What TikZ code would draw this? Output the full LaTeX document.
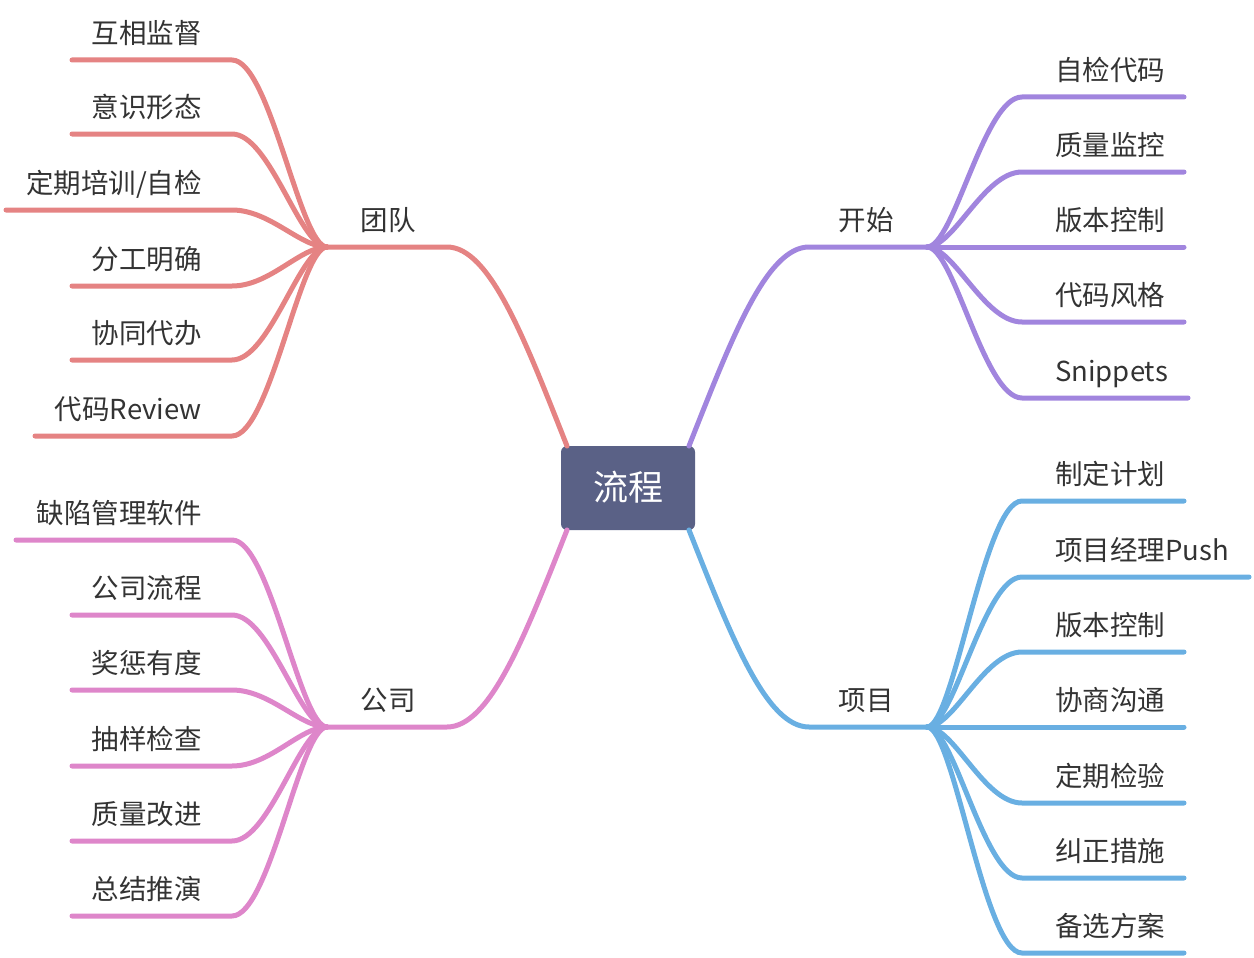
\documentclass[tikz,border=0pt]{standalone}
\usepackage{fontspec}
\setmainfont{Noto Sans CJK SC}
\definecolor{cred}{RGB}{229,131,131}
\definecolor{cpur}{RGB}{161,133,222}
\definecolor{cblu}{RGB}{105,175,226}
\definecolor{cpnk}{RGB}{222,134,202}
\definecolor{cbox}{RGB}{90,97,134}
\definecolor{ctxt}{RGB}{51,51,51}
\begin{document}
\begin{tikzpicture}[x=1pt,y=-1pt,
  lbl/.style={font=\fontsize{27.5}{30}\selectfont, text=ctxt, inner sep=0pt, text height=0.88em, text depth=0.12em, yshift=-7pt},
  lft/.style={lbl, anchor=east},
  rgt/.style={lbl, anchor=west},
  rootbox/.style={fill=cbox, rounded corners=6pt, minimum width=134pt, minimum height=84pt, inner sep=0pt,
    text=white, font=\fontsize{35}{38}\selectfont, text height=0.88em, text depth=0.12em},
  branch/.style={line width=5pt, line cap=round}
]
\useasboundingbox (0,0) rectangle (1254,958);

% root
\node[rootbox] (root) at (628,488) {\raisebox{-9pt}{流程}};
\coordinate (rTL) at (567,446);
\coordinate (rTR) at (689,446);
\coordinate (rBR) at (689,530);
\coordinate (rBL) at (567,530);

% hubs
\coordinate (T) at (327,247);
\coordinate (S) at (927,247);
\coordinate (P) at (927,727);
\coordinate (C) at (327,727);
\coordinate (Tk) at (447,247);
\coordinate (Sk) at (809,247);
\coordinate (Pk) at (809,727);
\coordinate (Ck) at (447,727);

% main branch labels
\node[lbl] (team) at (388,220) {团队};
\node[lbl] (start) at (866,220) {开始};
\node[lbl] (proj) at (866,700) {项目};
\node[lbl] (comp) at (388,700) {公司};

% main branches
\draw[branch, cred] (rTL) .. controls (525,340) and (490,247) .. (Tk) -- (T);
\draw[branch, cpur] (rTR) .. controls (731,340) and (766,247) .. (Sk) -- (S);
\draw[branch, cblu] (rBR) .. controls (731,636) and (766,727) .. (Pk) -- (P);
\draw[branch, cpnk] (rBL) .. controls (525,636) and (490,727) .. (Ck) -- (C);

% ---------- team children (red)
\coordinate (t1a) at (232,60);  \coordinate (t1b) at (72,60);
\coordinate (t2a) at (232,134); \coordinate (t2b) at (72,134);
\coordinate (t3a) at (232,210); \coordinate (t3b) at (6,210);
\coordinate (t4a) at (232,286); \coordinate (t4b) at (72,286);
\coordinate (t5a) at (232,360); \coordinate (t5b) at (72,360);
\coordinate (t6a) at (232,436); \coordinate (t6b) at (35,436);
\node[lft] (t1) at (202,33) {互相监督};
\node[lft] (t2) at (202,107) {意识形态};
\node[lft] (t3) at (202,183) {定期培训/自检};
\node[lft] (t4) at (202,259) {分工明确};
\node[lft] (t5) at (202,333) {协同代办};
\node[lft] (t6) at (202,409) {代码Review};
\foreach \i/\y in {1/60,2/134,3/210,4/286,5/360,6/436}
  \draw[branch, cred] (T) .. controls (300,247) and (270,\y) .. (t\i a) -- (t\i b);

% ---------- start children (purple)
\coordinate (s1a) at (1022,97);  \coordinate (s1b) at (1184,97);
\coordinate (s2a) at (1022,172); \coordinate (s2b) at (1184,172);
\coordinate (s3a) at (1022,247); \coordinate (s3b) at (1184,247);
\coordinate (s4a) at (1022,322); \coordinate (s4b) at (1184,322);
\coordinate (s5a) at (1022,398); \coordinate (s5b) at (1188,398);
\node[rgt] (s1) at (1055,69.5) {自检代码};
\node[rgt] (s2) at (1055,144.5) {质量监控};
\node[rgt] (s3) at (1055,219.5) {版本控制};
\node[rgt] (s4) at (1055,294.5) {代码风格};
\node[rgt] (s5) at (1055,370.5) {Snippets};
\foreach \i/\y in {1/97,2/172,3/247,4/322,5/398}
  \draw[branch, cpur] (S) .. controls (954,247) and (984,\y) .. (s\i a) -- (s\i b);

% ---------- project children (blue)
\coordinate (p1a) at (1022,501); \coordinate (p1b) at (1184,501);
\coordinate (p2a) at (1022,577); \coordinate (p2b) at (1249,577);
\coordinate (p3a) at (1022,652); \coordinate (p3b) at (1184,652);
\coordinate (p4a) at (1022,727); \coordinate (p4b) at (1184,727);
\coordinate (p5a) at (1022,803); \coordinate (p5b) at (1184,803);
\coordinate (p6a) at (1022,878); \coordinate (p6b) at (1184,878);
\coordinate (p7a) at (1022,953); \coordinate (p7b) at (1184,953);
\node[rgt] (p1) at (1055,473.5) {制定计划};
\node[rgt] (p2) at (1055,549.5) {项目经理Push};
\node[rgt] (p3) at (1055,624.5) {版本控制};
\node[rgt] (p4) at (1055,699.5) {协商沟通};
\node[rgt] (p5) at (1055,775.5) {定期检验};
\node[rgt] (p6) at (1055,850.5) {纠正措施};
\node[rgt] (p7) at (1055,925.5) {备选方案};
\foreach \i/\y in {1/501,2/577,3/652,4/727,5/803,6/878,7/953}
  \draw[branch, cblu] (P) .. controls (954,727) and (984,\y) .. (p\i a) -- (p\i b);

% ---------- company children (pink)
\coordinate (c1a) at (232,540); \coordinate (c1b) at (16,540);
\coordinate (c2a) at (232,615); \coordinate (c2b) at (72,615);
\coordinate (c3a) at (232,690); \coordinate (c3b) at (72,690);
\coordinate (c4a) at (232,766); \coordinate (c4b) at (72,766);
\coordinate (c5a) at (232,841); \coordinate (c5b) at (72,841);
\coordinate (c6a) at (232,916); \coordinate (c6b) at (72,916);
\node[lft] (c1) at (202,513) {缺陷管理软件};
\node[lft] (c2) at (202,588) {公司流程};
\node[lft] (c3) at (202,663) {奖惩有度};
\node[lft] (c4) at (202,739) {抽样检查};
\node[lft] (c5) at (202,814) {质量改进};
\node[lft] (c6) at (202,889) {总结推演};
\foreach \i/\y in {1/540,2/615,3/690,4/766,5/841,6/916}
  \draw[branch, cpnk] (C) .. controls (300,727) and (270,\y) .. (c\i a) -- (c\i b);
\end{tikzpicture}
\end{document}
